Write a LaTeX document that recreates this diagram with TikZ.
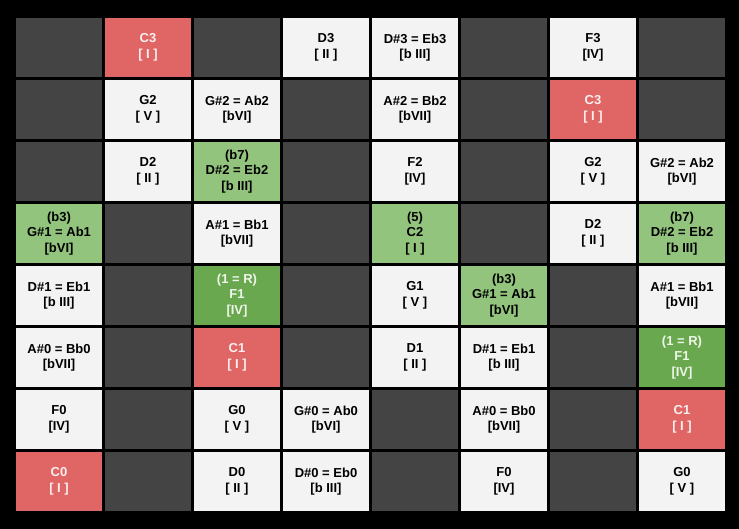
\documentclass[tikz,border=0pt]{standalone}
\usepackage{fontspec}
\setmainfont{Liberation Sans}
\definecolor{bgk}{HTML}{000000}
\definecolor{dkc}{HTML}{444444}
\definecolor{ltc}{HTML}{F3F3F3}
\definecolor{rdc}{HTML}{E06666}
\definecolor{grc}{HTML}{93C47D}
\definecolor{dgc}{HTML}{6AA84F}
\definecolor{wtx}{HTML}{FAEEEE}
\definecolor{gtx}{HTML}{EEF6EA}
\tikzset{
  cellbox/.style={minimum width=86pt, minimum height=59pt, inner sep=0pt, align=center,
    font=\bfseries\fontsize{13}{15.5}\selectfont},
  dk/.style={cellbox, fill=dkc},
  lt/.style={cellbox, fill=ltc, text=black},
  rd/.style={cellbox, fill=rdc, text=wtx},
  gr/.style={cellbox, fill=grc, text=black},
  dg/.style={cellbox, fill=dgc, text=gtx},
}
\newcommand\gcell[5]{\node[#2] (#1) at ({59+89*(#3-1)},{47.5+62*(#4-1)}) {#5};}
\newcommand\bk[1]{{[}#1{]}}
\begin{document}
\begin{tikzpicture}[x=1pt,y=-1pt]
\fill[bgk] (0,0) rectangle (739,529);
\useasboundingbox (0,0) rectangle (739,529);
% row 1
\gcell{a1}{dk}{1}{1}{}
\gcell{b1}{rd}{2}{1}{C3\\\bk{ I }}
\gcell{c1}{dk}{3}{1}{}
\gcell{d1}{lt}{4}{1}{D3\\\bk{ II }}
\gcell{e1}{lt}{5}{1}{D\#3 = Eb3\\\bk{b III}}
\gcell{f1}{dk}{6}{1}{}
\gcell{g1}{lt}{7}{1}{F3\\\bk{IV}}
\gcell{h1}{dk}{8}{1}{}
% row 2
\gcell{a2}{dk}{1}{2}{}
\gcell{b2}{lt}{2}{2}{G2\\\bk{ V }}
\gcell{c2}{lt}{3}{2}{G\#2 = Ab2\\\bk{bVI}}
\gcell{d2}{dk}{4}{2}{}
\gcell{e2}{lt}{5}{2}{A\#2 = Bb2\\\bk{bVII}}
\gcell{f2}{dk}{6}{2}{}
\gcell{g2}{rd}{7}{2}{C3\\\bk{ I }}
\gcell{h2}{dk}{8}{2}{}
% row 3
\gcell{a3}{dk}{1}{3}{}
\gcell{b3}{lt}{2}{3}{D2\\\bk{ II }}
\gcell{c3}{gr}{3}{3}{(b7)\\D\#2 = Eb2\\\bk{b III}}
\gcell{d3}{dk}{4}{3}{}
\gcell{e3}{lt}{5}{3}{F2\\\bk{IV}}
\gcell{f3}{dk}{6}{3}{}
\gcell{g3}{lt}{7}{3}{G2\\\bk{ V }}
\gcell{h3}{lt}{8}{3}{G\#2 = Ab2\\\bk{bVI}}
% row 4
\gcell{a4}{gr}{1}{4}{(b3)\\G\#1 = Ab1\\\bk{bVI}}
\gcell{b4}{dk}{2}{4}{}
\gcell{c4}{lt}{3}{4}{A\#1 = Bb1\\\bk{bVII}}
\gcell{d4}{dk}{4}{4}{}
\gcell{e4}{gr}{5}{4}{(5)\\C2\\\bk{ I }}
\gcell{f4}{dk}{6}{4}{}
\gcell{g4}{lt}{7}{4}{D2\\\bk{ II }}
\gcell{h4}{gr}{8}{4}{(b7)\\D\#2 = Eb2\\\bk{b III}}
% row 5
\gcell{a5}{lt}{1}{5}{D\#1 = Eb1\\\bk{b III}}
\gcell{b5}{dk}{2}{5}{}
\gcell{c5}{dg}{3}{5}{(1 = R)\\F1\\\bk{IV}}
\gcell{d5}{dk}{4}{5}{}
\gcell{e5}{lt}{5}{5}{G1\\\bk{ V }}
\gcell{f5}{gr}{6}{5}{(b3)\\G\#1 = Ab1\\\bk{bVI}}
\gcell{g5}{dk}{7}{5}{}
\gcell{h5}{lt}{8}{5}{A\#1 = Bb1\\\bk{bVII}}
% row 6
\gcell{a6}{lt}{1}{6}{A\#0 = Bb0\\\bk{bVII}}
\gcell{b6}{dk}{2}{6}{}
\gcell{c6}{rd}{3}{6}{C1\\\bk{ I }}
\gcell{d6}{dk}{4}{6}{}
\gcell{e6}{lt}{5}{6}{D1\\\bk{ II }}
\gcell{f6}{lt}{6}{6}{D\#1 = Eb1\\\bk{b III}}
\gcell{g6}{dk}{7}{6}{}
\gcell{h6}{dg}{8}{6}{(1 = R)\\F1\\\bk{IV}}
% row 7
\gcell{a7}{lt}{1}{7}{F0\\\bk{IV}}
\gcell{b7}{dk}{2}{7}{}
\gcell{c7}{lt}{3}{7}{G0\\\bk{ V }}
\gcell{d7}{lt}{4}{7}{G\#0 = Ab0\\\bk{bVI}}
\gcell{e7}{dk}{5}{7}{}
\gcell{f7}{lt}{6}{7}{A\#0 = Bb0\\\bk{bVII}}
\gcell{g7}{dk}{7}{7}{}
\gcell{h7}{rd}{8}{7}{C1\\\bk{ I }}
% row 8
\gcell{a8}{rd}{1}{8}{C0\\\bk{ I }}
\gcell{b8}{dk}{2}{8}{}
\gcell{c8}{lt}{3}{8}{D0\\\bk{ II }}
\gcell{d8}{lt}{4}{8}{D\#0 = Eb0\\\bk{b III}}
\gcell{e8}{dk}{5}{8}{}
\gcell{f8}{lt}{6}{8}{F0\\\bk{IV}}
\gcell{g8}{dk}{7}{8}{}
\gcell{h8}{lt}{8}{8}{G0\\\bk{ V }}
\end{tikzpicture}
\end{document}
